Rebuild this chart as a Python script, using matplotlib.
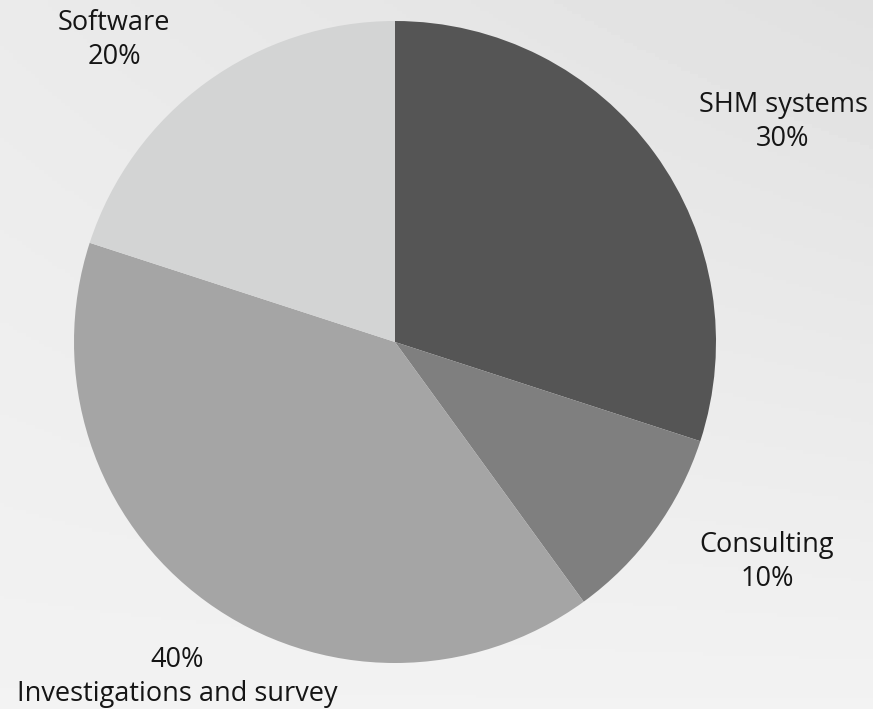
import matplotlib
matplotlib.use("Agg")
import matplotlib.pyplot as plt
import numpy as np

categories = ["SHM systems", "Consulting", "Investigations and survey", "Software"]
values = [30, 10, 40, 20]
colors = ["#555555", "#7f7f7f", "#a5a5a5", "#d3d4d4"]

W, H = 873, 709
fig = plt.figure(figsize=(W / 100, H / 100), dpi=100)
fig.patch.set_facecolor("#ebebeb")

# background gradient
bg = fig.add_axes([0, 0, 1, 1], zorder=0)
yy, xx = np.mgrid[0:1:200j, 0:1:200j]
grad = 0.95 - 0.04 * xx * (1 - yy) - 0.03 * (1 - yy)
bg.imshow(grad, cmap="gray", vmin=0, vmax=1, extent=[0, 1, 0, 1], aspect="auto")
bg.axis("off")

cx, cy, r = 395, 342, 321
ax = fig.add_axes([(cx - r) / W, (H - cy - r) / H, 2 * r / W, 2 * r / H], zorder=1)
ax.pie(values, colors=colors, startangle=90, counterclock=False, radius=1,
       wedgeprops=dict(linewidth=0))
ax.set_xlim(-1, 1)
ax.set_ylim(-1, 1)
ax.set_aspect("equal")
ax.axis("off")

fam = ["Open Sans", "DejaVu Sans"]
fs = 19.5
def px(x, y):
    return ((x - cx) / r, (cy - y) / r)

labels = [
    ("SHM systems\n30%", 783, 122),
    ("Consulting\n10%", 767, 562),
    ("Software\n20%", 114, 40),
    ("40%\nInvestigations and survey", 177, 677),
]
for (txt, x, y) in labels:
    X, Y = px(x, y)
    ax.text(X, Y, txt, ha="center", va="center", fontsize=fs, family=fam,
            color="#151515", linespacing=1.3, clip_on=False)

fig.savefig("out.png", dpi=100, facecolor=fig.get_facecolor())
